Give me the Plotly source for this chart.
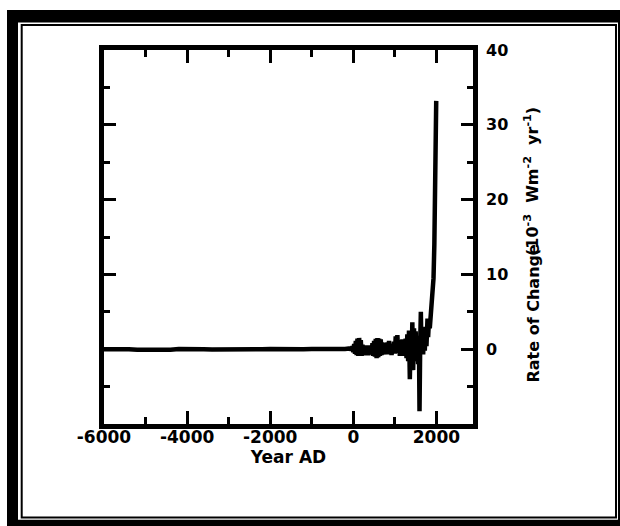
import plotly.graph_objects as go

# ---- data ----
flat_years = [-6000, -5800, -5600, -5400, -5200, -5000, -4800, -4600, -4400, -4200,
              -4000, -3800, -3600, -3400, -3200, -3000, -2800, -2600, -2400, -2200,
              -2000, -1800, -1600, -1400, -1200, -1000, -800, -600, -400, -200]
flat_rate = [0.0, 0.02, 0.02, 0.0, -0.08, -0.1, -0.08, -0.1, -0.08, 0.02,
             0.05, 0.02, 0.0, -0.03, -0.05, 0.0, 0.03, 0.0, -0.03, 0.0,
             0.03, 0.0, -0.05, -0.03, 0.0, 0.03, 0.0, -0.05, 0.0, 0.03]

recent_years = [-100, -80, -60, -40, -20, 0, 20, 40, 60, 80, 100, 120, 140, 160, 180,
                200, 220, 240, 260, 280, 300, 320, 340, 360, 380, 400, 420, 440, 460,
                480, 500, 520, 540, 560, 580, 600, 620, 640, 660, 680, 700, 720, 740,
                760, 780, 800, 820, 840, 860, 880, 900, 920, 940, 960, 980, 1000, 1020,
                1040, 1060, 1080, 1100, 1120, 1140, 1160, 1180, 1200, 1220, 1240, 1260,
                1280, 1300, 1320, 1340, 1360, 1380, 1400, 1420, 1440, 1460, 1480, 1500,
                1520, 1540, 1560, 1580, 1593, 1610, 1625, 1640, 1660, 1680, 1700, 1720,
                1740, 1760, 1785, 1800, 1820, 1840, 1860, 1900, 1930, 1950, 1965, 1975,
                1985, 1995]
recent_rate = [0.1, -0.1, 0.3, -0.2, 0.4, -0.4, 0.7, -0.6, 1.1, -0.8, 1.4, -0.9, 1.5, -0.8, 1.2,
               -0.9, 0.6, -0.7, 0.5, -0.8, 0.4, -0.6, 0.5, -0.8, 0.3, -0.7, 0.5, -0.6, 0.8,
               -0.9, 1.1, -1.0, 1.4, -1.2, 1.5, -1.1, 1.4, -0.9, 1.3, -0.8, 0.9, -0.6, 0.6,
               -0.7, 0.8, -0.5, 0.9, -0.7, 1.1, -0.6, 0.7, -0.8, 0.6, -0.5, 1.0, -0.6, 1.7,
               -0.4, 1.9, -0.5, 1.2, -0.9, 0.8, -0.7, 1.3, -0.9, 0.9, -0.6, 1.4,
               -1.2, 2.0, -1.6, 2.5, -4.0, 1.8, -2.5, 3.6, -2.8, 2.8, -1.6, 2.4,
               -1.2, 1.5, -2.0, 0.5, -8.3, 1.0, 5.0, -0.5, 2.7, -0.7, 2.4, -0.2,
               3.0, 0.4, 4.1, 1.6, 3.8, 2.8, 4.5, 7.0, 9.5, 14.0, 19.0, 24.0,
               29.0, 33.2]

x_tickvals = [-6000, -4000, -2000, 0, 2000]
x_ticktext = ["-6000", "-4000", "-2000", "0", "2000"]
y_tickvals = [0, 10, 20, 30, 40]
y_ticktext = ["0", "10", "20", "30", "40"]

years = flat_years + recent_years
rate = flat_rate + recent_rate

# ---- geometry helpers (pixel -> paper) ----
W, H = 620, 526
ML, MR, MT, MB = 104, 147, 50, 102
PW, PH = W - ML - MR, H - MT - MB


def px(x):
    return (x - ML) / PW


def py(y):
    return (H - MB - y) / PH


FONT = "DejaVu Sans"

fig = go.Figure()
fig.add_trace(go.Scatter(x=years, y=rate, mode="lines",
                         line=dict(color="black", width=4.5), showlegend=False,
                         hoverinfo="skip"))

fig.update_layout(
    width=W, height=H,
    margin=dict(l=ML, r=MR, t=MT, b=MB, pad=0),
    paper_bgcolor="white", plot_bgcolor="white",
    font=dict(family=FONT, color="black", size=16, weight="bold"),
    showlegend=False,
)

fig.update_xaxes(
    range=[-6000, 2880], showgrid=False, zeroline=False,
    showline=True, linecolor="black", linewidth=4.7, mirror="ticks",
    ticks="inside", ticklen=13, tickwidth=3, tickcolor="black",
    tickvals=x_tickvals, ticktext=x_ticktext,
    tickfont=dict(family=FONT, size=17, color="black", weight="bold"),
    ticklabelstandoff=-6,
    minor=dict(dtick=1000, tick0=0, ticks="inside", ticklen=7, tickwidth=3, tickcolor="black", showgrid=False),
    title=dict(text="Year AD", font=dict(family=FONT, size=17, color="black", weight="bold"), standoff=6),
)

fig.update_yaxes(
    range=[-10, 40], side="right", showgrid=False, zeroline=False,
    showline=True, linecolor="black", linewidth=4.7, mirror="ticks",
    ticks="inside", ticklen=12, tickwidth=3, tickcolor="black",
    tickvals=y_tickvals, ticktext=y_ticktext,
    tickfont=dict(family=FONT, size=16, color="black", weight="bold"),
    ticklabelstandoff=5,
    minor=dict(dtick=5, tick0=0, ticks="inside", ticklen=6, tickwidth=3, tickcolor="black", showgrid=False),
)

# y-axis title (overlapping as in the reference)
title_font = dict(family=FONT, size=16, color="black", weight="bold")
fig.add_annotation(text="Rate of Change", textangle=-90, xref="paper", yref="paper",
                   x=px(544), y=py(385), xanchor="right", yanchor="bottom",
                   showarrow=False, font=title_font)
fig.add_annotation(text="(10<sup>-3</sup>  Wm<sup>-2</sup>  yr<sup>-1</sup>)", textangle=-90,
                   xref="paper", yref="paper",
                   x=px(544), y=py(258), xanchor="right", yanchor="bottom",
                   showarrow=False, font=title_font)

# page frame
fig.add_shape(type="rect", xref="paper", yref="paper", layer="below",
              x0=px(7), x1=px(630), y0=py(536), y1=py(10),
              fillcolor="black", line=dict(width=0))
fig.add_shape(type="rect", xref="paper", yref="paper", layer="below",
              x0=px(18), x1=px(618), y0=py(519.7), y1=py(22.5),
              fillcolor="white", line=dict(width=0))
fig.add_shape(type="rect", xref="paper", yref="paper", layer="below",
              x0=px(21.7), x1=px(616), y0=py(517.5), y1=py(25),
              fillcolor="rgba(0,0,0,0)", line=dict(color="black", width=2))

fig.write_html("out.html", config={"displayModeBar": False},
               post_script="document.body.style.margin='0';document.body.style.overflow='hidden';")
